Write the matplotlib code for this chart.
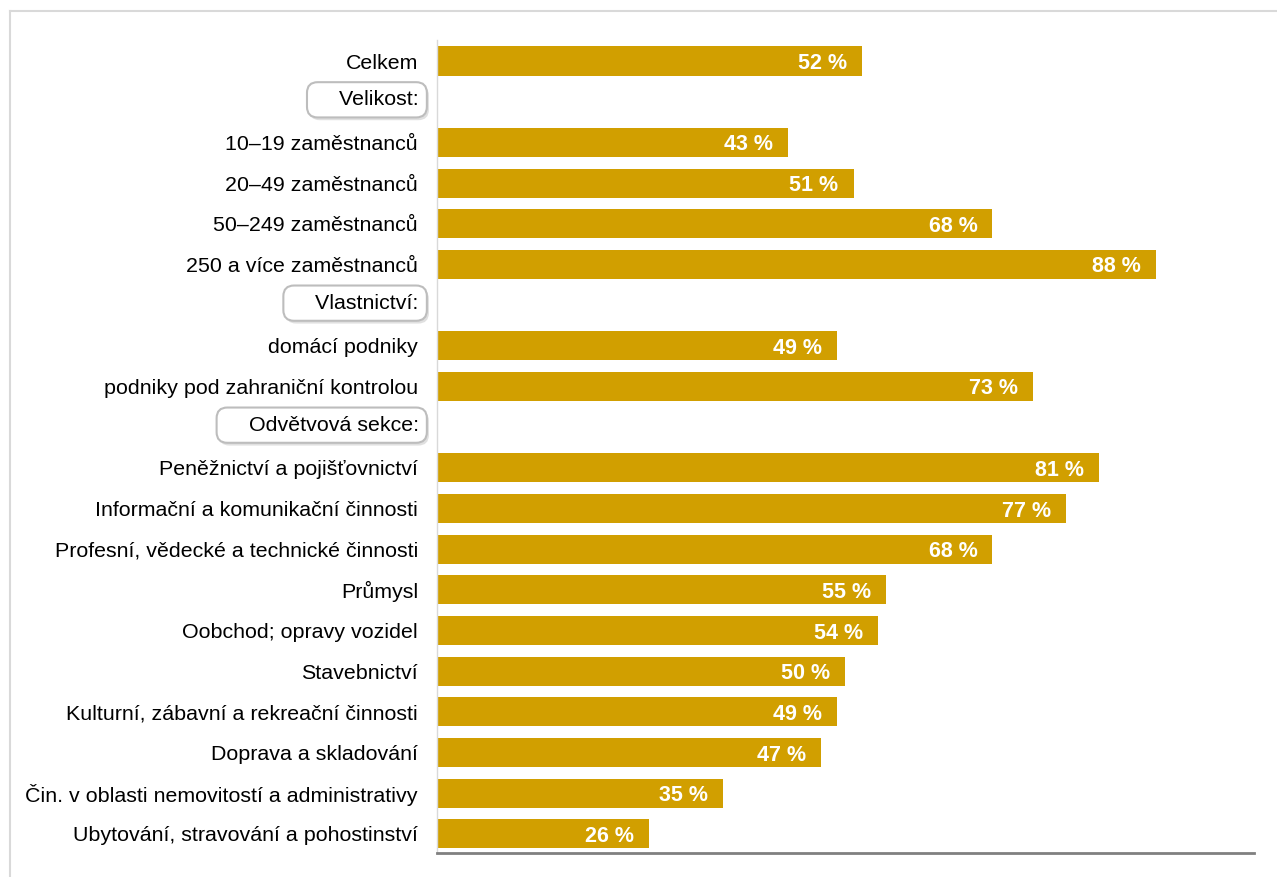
import matplotlib.pyplot as plt
import matplotlib.patheffects as pe
from matplotlib.lines import Line2D

plt.rcParams['font.family'] = ['Liberation Sans', 'DejaVu Sans']

# rows top to bottom; None marks a group heading
labels = ['Celkem', 'Velikost:',
          '10–19 zaměstnanců', '20–49 zaměstnanců', '50–249 zaměstnanců',
          '250 a více zaměstnanců', 'Vlastnictví:',
          'domácí podniky', 'podniky pod zahraniční kontrolou',
          'Odvětvová sekce:',
          'Peněžnictví a pojišťovnictví', 'Informační a komunikační činnosti',
          'Profesní, vědecké a technické činnosti', 'Průmysl',
          'Oobchod; opravy vozidel', 'Stavebnictví',
          'Kulturní, zábavní a rekreační činnosti', 'Doprava a skladování',
          'Čin. v oblasti nemovitostí a administrativy',
          'Ubytování, stravování a pohostinství']
values = [52, None, 43, 51, 68, 88, None, 49, 73, None,
          81, 77, 68, 55, 54, 50, 49, 47, 35, 26]
headers = ['Velikost:', 'Vlastnictví:', 'Odvětvová sekce:']

bar_col = '#D19F00'

fig = plt.figure(figsize=(12.77, 8.77), dpi=100)
ax = fig.add_axes([0.342, 0.0274, 0.640, 0.927])

ypos = list(range(len(labels)))
for y, v in zip(ypos, values):
    if v is None:
        continue
    ax.barh(y, v, height=0.72, color=bar_col)
    ax.annotate(f'{v} %', (v, y), xytext=(-15, 0), textcoords='offset pixels',
                ha='right', va='center_baseline', color='white', fontsize=15.5,
                fontweight='bold')

ax.set_xlim(0, 100)
ax.set_ylim(19.47, -0.52)
ax.set_yticks(ypos)
ax.set_yticklabels([l if l not in headers else '' for l in labels], fontsize=15.4)
ax.tick_params(axis='y', length=0, pad=13.5)
ax.set_xticks([])

for s in ['top', 'right']:
    ax.spines[s].set_visible(False)
ax.spines['left'].set_color('#d9d9d9')
ax.spines['left'].set_linewidth(1.0)
ax.spines['bottom'].set_color('#808080')
ax.spines['bottom'].set_linewidth(2.0)

# group headings in rounded boxes with a soft shadow
for y, l in zip(ypos, labels):
    if l not in headers:
        continue
    t = ax.annotate('    ' + l, (0, y), xytext=(-18, 2), textcoords='offset pixels',
                    ha='right', va='center', fontsize=15.4,
                    annotation_clip=False,
                    bbox=dict(boxstyle='round,pad=0.38,rounding_size=0.5',
                              fc='white', ec='#bdbdbd', lw=1.5))
    t.get_bbox_patch().set_path_effects(
        [pe.SimplePatchShadow(offset=(1.5, -2), shadow_rgbFace='#cccccc', alpha=0.6),
         pe.Normal()])

# thin frame lines along top and left edges
fig.add_artist(Line2D([10 / 1277, 1], [1 - 11 / 877, 1 - 11 / 877],
                      transform=fig.transFigure, color='#d9d9d9', lw=1.5))
fig.add_artist(Line2D([10 / 1277, 10 / 1277], [0, 1 - 11 / 877],
                      transform=fig.transFigure, color='#d9d9d9', lw=1.5))

fig.savefig('out.png', dpi=100)
